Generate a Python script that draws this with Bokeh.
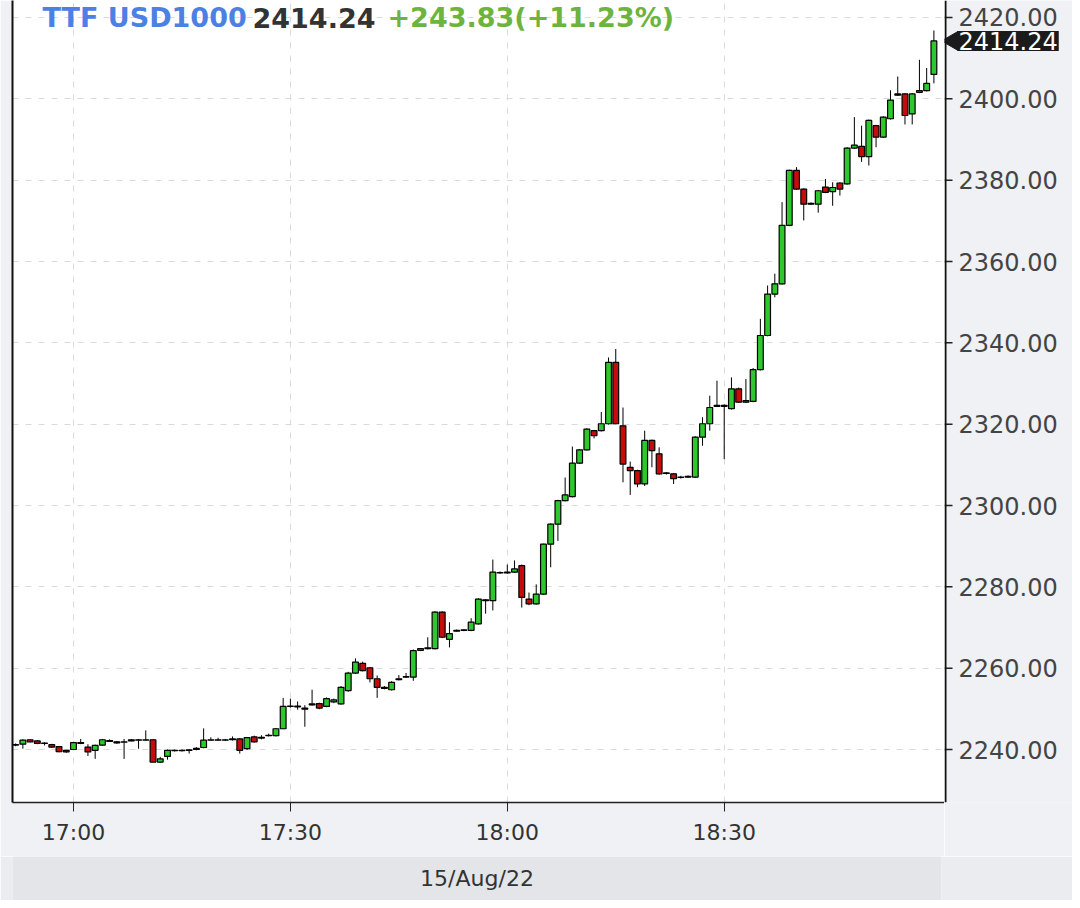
import pandas as pd
from bokeh.plotting import figure
from bokeh.layouts import column, row
from bokeh.models import (ColumnDataSource, FixedTicker, DatetimeTickFormatter,
                          Range1d, LinearAxis, Label, Grid, Span)
from bokeh.embed import file_html
from bokeh.resources import INLINE

# ---------------- data ----------------
start_time = "2022-08-15 16:52"
opens = [2241.2, 2241.3, 2242.4, 2242.1, 2241.6, 2241.2, 2240.7, 2239.8,
         2240.0, 2241.7, 2240.6, 2239.8, 2241.1, 2242.2, 2241.9, 2241.8, 2242.1, 2242.4, 2242.3, 2242.4,
         2236.9, 2238.3, 2239.8, 2239.7, 2239.8, 2240.0, 2240.5, 2242.3, 2242.4, 2242.3,
         2242.4, 2242.6, 2240.2, 2243.1, 2242.8, 2243.4, 2243.4, 2245.1, 2250.6, 2250.7,
         2250.2, 2251.0, 2251.3, 2250.6, 2251.7, 2251.2, 2254.5, 2258.8, 2261.2, 2260.1,
         2257.4, 2255.3, 2254.7, 2257.2, 2257.8, 2257.8, 2264.4, 2264.8, 2264.8, 2273.8,
         2267.1, 2269.1, 2269.3, 2269.3, 2270.9, 2276.8, 2276.6, 2283.4, 2283.4, 2283.6,
         2285.2, 2277.0, 2275.8, 2278.2, 2290.5, 2295.4, 2301.2, 2302.2, 2310.4, 2313.7,
         2318.4, 2318.4, 2320.1, 2335.2, 2319.6, 2309.4, 2308.6, 2305.3, 2316.0, 2312.7,
         2308.0, 2307.8, 2306.9, 2307.0, 2307.0, 2316.8, 2320.1, 2324.4, 2324.6, 2323.8,
         2328.7, 2325.4, 2325.6, 2333.4, 2341.8, 2352.0, 2354.5, 2368.9, 2382.4, 2377.8,
         2374.1, 2374.1, 2378.3, 2377.2, 2379.3, 2379.1, 2387.9, 2388.3, 2385.8, 2393.4,
         2390.6, 2395.1, 2400.9, 2401.2, 2396.3, 2401.6, 2402.0, 2406.0]
highs = [2241.5, 2242.5, 2242.5, 2242.3, 2241.8, 2241.4, 2240.8, 2239.9,
         2241.9, 2242.6, 2241.3, 2241.2, 2242.6, 2242.5, 2242.1, 2242.6, 2242.6, 2242.6, 2244.7, 2242.5,
         2238.2, 2240.0, 2240.0, 2240.0, 2240.1, 2240.6, 2245.2, 2243.0, 2242.9, 2242.6,
         2243.2, 2242.8, 2243.0, 2243.4, 2243.5, 2243.9, 2245.3, 2252.7, 2252.5, 2251.8,
         2250.9, 2254.7, 2251.5, 2252.8, 2252.5, 2255.6, 2259.1, 2262.4, 2261.6, 2260.3,
         2258.2, 2255.6, 2256.8, 2258.3, 2258.8, 2264.6, 2264.9, 2267.6, 2274.0, 2274.0,
         2271.3, 2269.5, 2269.6, 2272.3, 2277.2, 2277.0, 2286.7, 2283.8, 2285.5, 2286.5,
         2285.5, 2278.6, 2280.6, 2290.6, 2295.6, 2301.4, 2306.9, 2314.5, 2313.9, 2319.0,
         2318.6, 2323.0, 2336.4, 2338.5, 2324.1, 2310.8, 2308.8, 2318.4, 2316.2, 2314.3,
         2308.2, 2308.0, 2307.3, 2307.4, 2317.0, 2321.7, 2327.0, 2330.7, 2324.9, 2331.5,
         2329.0, 2331.1, 2333.8, 2345.9, 2354.1, 2357.0, 2374.6, 2382.6, 2383.2, 2378.0,
         2374.5, 2377.6, 2380.3, 2379.5, 2379.5, 2388.1, 2395.5, 2393.4, 2394.9, 2393.6,
         2395.7, 2402.1, 2405.5, 2401.4, 2401.4, 2409.6, 2407.6, 2416.8]
lows = [2240.8, 2240.2, 2241.8, 2241.3, 2241.0, 2240.4, 2239.3, 2239.2,
        2239.9, 2241.3, 2238.4, 2237.7, 2240.9, 2241.9, 2241.4, 2237.7, 2242.0, 2240.2, 2242.2, 2236.8,
        2236.7, 2237.5, 2239.5, 2239.5, 2239.0, 2239.8, 2240.3, 2242.1, 2242.2, 2242.1,
        2242.2, 2239.0, 2239.9, 2241.7, 2242.5, 2243.2, 2243.2, 2245.0, 2250.3, 2249.8,
        2245.6, 2250.8, 2249.9, 2250.4, 2251.4, 2251.0, 2254.2, 2258.6, 2259.2, 2256.5,
        2252.7, 2254.8, 2254.5, 2257.0, 2257.6, 2256.9, 2264.2, 2264.6, 2264.6, 2267.4,
        2265.1, 2269.0, 2269.1, 2269.1, 2270.7, 2273.4, 2274.2, 2283.2, 2283.2, 2283.4,
        2274.9, 2275.5, 2275.6, 2278.0, 2284.8, 2291.3, 2301.0, 2302.0, 2310.2, 2313.5,
        2316.5, 2318.2, 2319.9, 2320.0, 2305.7, 2302.6, 2304.5, 2304.8, 2309.4, 2307.6,
        2307.6, 2305.3, 2306.6, 2306.8, 2306.8, 2314.7, 2318.4, 2324.2, 2311.4, 2323.6,
        2325.2, 2325.2, 2325.4, 2333.2, 2341.6, 2351.2, 2354.3, 2368.7, 2377.6, 2370.1,
        2373.9, 2372.0, 2376.8, 2373.7, 2376.2, 2378.9, 2387.7, 2384.5, 2383.6, 2388.1,
        2390.4, 2394.9, 2400.7, 2393.7, 2393.7, 2401.4, 2401.8, 2403.8]
closes = [2241.1, 2242.3, 2241.9, 2241.5, 2241.5, 2240.6, 2239.5, 2239.4,
          2241.7, 2241.5, 2239.4, 2241.0, 2242.4, 2242.0, 2241.6, 2241.9, 2242.4, 2242.3, 2242.4, 2236.9,
          2237.7, 2239.8, 2239.7, 2239.8, 2239.9, 2240.3, 2242.3, 2242.4, 2242.3, 2242.4,
          2242.6, 2239.8, 2242.9, 2241.9, 2243.0, 2243.5, 2245.1, 2250.6, 2250.7, 2250.5,
          2249.9, 2251.2, 2250.2, 2252.5, 2252.2, 2255.3, 2258.8, 2261.5, 2259.4, 2257.4,
          2255.3, 2255.0, 2256.5, 2257.4, 2257.9, 2264.3, 2264.8, 2265.0, 2273.8, 2267.6,
          2268.5, 2269.3, 2269.4, 2271.3, 2277.0, 2276.6, 2283.6, 2283.5, 2283.6, 2284.4,
          2277.4, 2275.8, 2278.2, 2290.5, 2295.4, 2301.2, 2302.6, 2310.4, 2313.7, 2318.8,
          2317.2, 2320.1, 2335.2, 2320.1, 2310.2, 2308.6, 2305.3, 2316.0, 2313.5, 2307.8,
          2307.9, 2306.6, 2307.0, 2307.2, 2316.8, 2320.1, 2324.1, 2324.6, 2324.4, 2328.7,
          2325.4, 2325.8, 2333.4, 2341.8, 2352.0, 2354.5, 2368.9, 2382.4, 2377.8, 2374.1,
          2374.3, 2377.4, 2377.0, 2378.2, 2377.8, 2387.9, 2388.6, 2385.8, 2394.7, 2390.6,
          2395.5, 2399.7, 2401.2, 2395.9, 2401.2, 2402.0, 2403.8, 2414.24]

symbol = "TTF USD1000"
last_text = "2414.24"
change_text = "+243.83(+11.23%)"
date_text = "15/Aug/22"
x_tick_labels = ["17:00", "17:30", "18:00", "18:30"]
y_ticks = [2240, 2260, 2280, 2300, 2320, 2340, 2360, 2380, 2400, 2420]

# ---------------- build ----------------
times = pd.date_range(start_time, periods=len(opens), freq="1min")
GREEN = "#2ec82e"
RED = "#c40c0c"
colors = [GREEN if c >= o else RED for o, c in zip(opens, closes)]
src = ColumnDataSource(dict(
    t=times, open=opens, high=highs, low=lows, close=closes,
    top=[max(o, c) for o, c in zip(opens, closes)],
    bottom=[min(o, c) for o, c in zip(opens, closes)],
    color=colors))

x_start = times[0] - pd.Timedelta(seconds=26)
x_end = times[-1] + pd.Timedelta(seconds=88)
y_range = Range1d(2226.97, 2424.18)

PAGE_BG = "#eff1f4"
FONT = "DejaVu Sans"
AX = "#111111"

# ---- main price panel ----
p = figure(width=944, height=856, x_axis_type="datetime", y_axis_location=None,
           x_range=Range1d(x_start, x_end), y_range=y_range,
           toolbar_location=None, output_backend="svg",
           min_border_left=12, min_border_right=0, min_border_top=0, min_border_bottom=54,
           background_fill_color="white", border_fill_color=PAGE_BG)
p.outline_line_color = None

# grids
xt = [pd.Timestamp("2022-08-15 " + s) for s in x_tick_labels]
x_ticker = FixedTicker(ticks=[t.value / 1e6 for t in xt])
y_ticker = FixedTicker(ticks=y_ticks)
grids = [g for g in p.center if isinstance(g, Grid)]
has_y = False
for g in grids:
    if g.dimension == 0:
        g.ticker = x_ticker
    else:
        g.ticker = y_ticker
        has_y = True
if not has_y:
    yg = Grid(dimension=1, ticker=y_ticker)
    p.add_layout(yg)
    grids.append(yg)
for g in grids:
    g.grid_line_color = "#dadada"
    g.grid_line_dash = "6 7"
    g.grid_line_width = 1

p.segment(x0="t", y0="high", x1="t", y1="low", source=src, line_color="black", line_width=1)
p.vbar(x="t", top="top", bottom="bottom", width=48000, source=src,
       fill_color="color", line_color="black", line_width=1.2)

xaxis = p.xaxis[0]
xaxis.ticker = x_ticker
xaxis.formatter = DatetimeTickFormatter(minutes="%H:%M", hours="%H:%M", hourmin="%H:%M")
xaxis.axis_line_color = "#222222"
xaxis.axis_line_width = 1.5
xaxis.major_tick_line_color = "#222222"
xaxis.major_tick_out = 9
xaxis.major_tick_in = 0
xaxis.minor_tick_line_color = None
xaxis.major_label_standoff = 8
xaxis.major_label_text_font = FONT
xaxis.major_label_text_font_size = "22px"
xaxis.major_label_text_color = "#333333"

# left border line as an empty axis
la = LinearAxis(major_tick_line_color=None, minor_tick_line_color=None,
                major_label_text_font_size="0px", major_label_standoff=0,
                axis_line_color=AX, axis_line_width=2,
                ticker=FixedTicker(ticks=[]))
p.add_layout(la, "left")

# title labels
title_y = 785
for txt, xpos, col in ((symbol, 30, "#4d80e4"), (last_text, 240, "#333333"),
                       (change_text, 375, "#6cb43e")):
    p.add_layout(Label(x=xpos, y=title_y, x_units="screen", y_units="screen", text=txt,
                       text_font=FONT, text_font_style="bold", text_font_size="27px",
                       text_color=col, text_baseline="middle"))

# ---- right price-axis panel ----
pr = figure(width=128, height=856, x_range=Range1d(0, 128), y_range=y_range,
            x_axis_type=None, y_axis_type=None, toolbar_location=None, output_backend="svg",
            min_border_left=0, min_border_right=0, min_border_top=0, min_border_bottom=54,
            background_fill_color=PAGE_BG, border_fill_color=PAGE_BG)
pr.outline_line_color = None
pr.grid.visible = False
pr.add_layout(Span(location=1, dimension="height", line_color=AX, line_width=2))
tick_src = ColumnDataSource(dict(y=y_ticks, label=[f"{v:.2f}" for v in y_ticks]))
pr.segment(x0=0, x1=8, y0="y", y1="y", source=tick_src, line_color="#222222", line_width=1.5)
pr.text(x=14, y="y", text="label", source=tick_src, text_font={"value": FONT},
        text_font_size="24px", text_color="#444444", text_baseline="middle")

# last price tag
pr.scatter(x=[8], y=[closes[-1]], marker="triangle", size=19, angle=90, angle_units="deg",
           fill_color="#1b1b1b", line_color="#1b1b1b")
pr.add_layout(Label(x=13, y=closes[-1], text=last_text, text_font=FONT,
                    text_font_size="24px", text_color="white",
                    background_fill_color="#1b1b1b", text_baseline="middle", padding=1))

# ---- date bar ----
p2 = figure(width=1072, height=44, x_range=Range1d(0, 1), y_range=Range1d(0, 1),
            x_axis_type=None, y_axis_type=None, toolbar_location=None, output_backend="svg",
            min_border_left=12, min_border_right=131, min_border_top=0, min_border_bottom=0,
            background_fill_color="#e3e5e8", border_fill_color="#eaecef")
p2.outline_line_color = None
p2.add_layout(Label(x=0.5, y=0.5, text=date_text, text_font=FONT, text_font_size="22px",
                    text_color="#333333", text_align="center", text_baseline="middle"))

layout = column(row(p, pr, spacing=0), p2, spacing=0)
open("out.html", "w").write(file_html(layout, INLINE))
